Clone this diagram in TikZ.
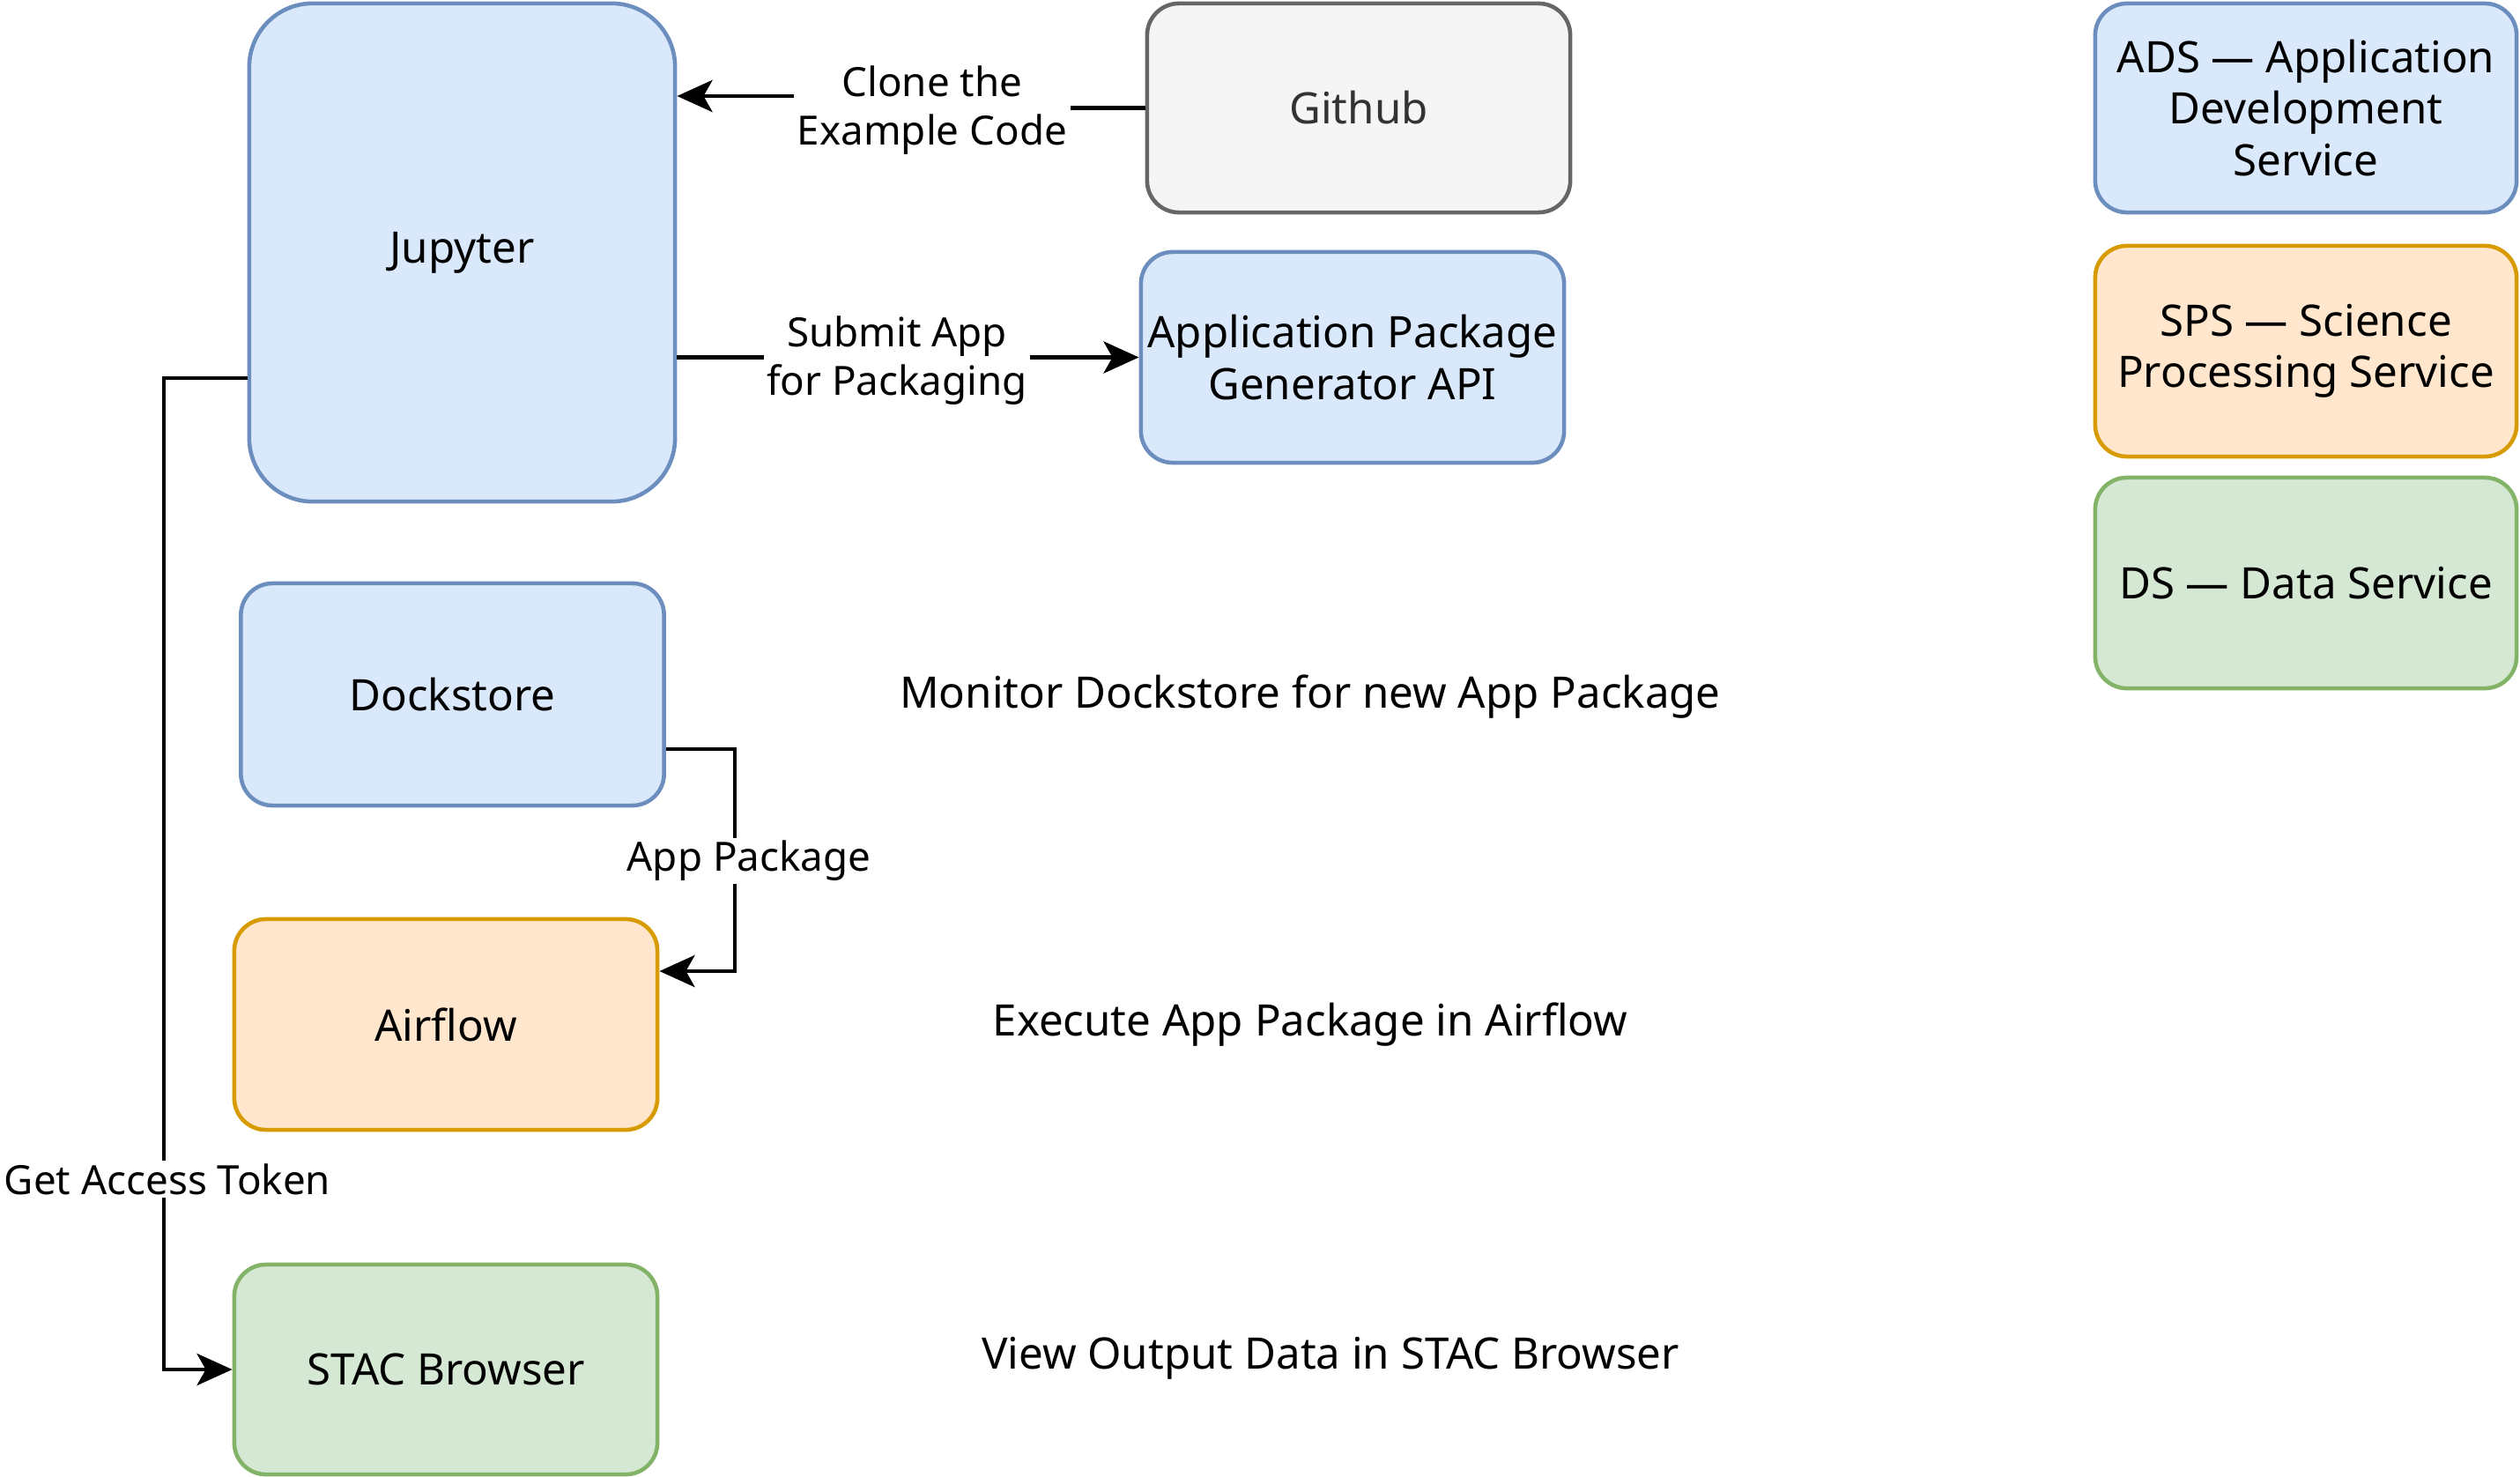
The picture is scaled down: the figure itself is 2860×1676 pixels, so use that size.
\documentclass[tikz,border=0pt]{standalone}
\usepackage{fontspec}
\setmainfont{Noto Sans}
\usetikzlibrary{arrows.meta}
\definecolor{bluefill}{HTML}{DAE8FC}
\definecolor{bluedraw}{HTML}{6C8EBF}
\definecolor{orfill}{HTML}{FFE6CC}
\definecolor{ordraw}{HTML}{D79B00}
\definecolor{grfill}{HTML}{D5E8D4}
\definecolor{grdraw}{HTML}{82B366}
\definecolor{gyfill}{HTML}{F5F5F5}
\definecolor{gydraw}{HTML}{666666}
\definecolor{gytext}{HTML}{333333}
\tikzset{
  box/.style={draw, rounded corners=0.36cm, line width=1.3pt, minimum width=4.8cm, minimum height=2.39cm, align=center, inner sep=0pt, font=\fontsize{14}{16.6}\selectfont},
  bluebox/.style={box, fill=bluefill, draw=bluedraw},
  orbox/.style={box, fill=orfill, draw=ordraw},
  grbox/.style={box, fill=grfill, draw=grdraw},
  edge/.style={draw=black, line width=1.4pt, -{Stealth[length=0.4cm, width=0.36cm, inset=0.1cm]}},
  elabel/.style={fill=white, align=center, inner sep=1pt, font=\fontsize{13}{15.5}\selectfont},
  freetext/.style={align=center, font=\fontsize{14}{16.6}\selectfont},
}
\begin{document}
\begin{tikzpicture}[x=0.01cm, y=-0.01cm]
\useasboundingbox (0,0) rectangle (2860,1676);
% nodes
\node[bluebox, rounded corners=0.72cm, minimum width=4.83cm, minimum height=5.65cm] (jupyter) at (524.5,286.5) {Jupyter};
\node[box, fill=gyfill, draw=gydraw, text=gytext, minimum height=2.37cm] (github) at (1542,122.5) {Github};
\node[bluebox] (appgen) at (1535,405.5) {Application Package\\Generator API};
\node[bluebox, minimum height=2.52cm] (dockstore) at (513.5,788) {Dockstore};
\node[orbox] (airflow) at (506,1162.5) {Airflow};
\node[grbox, minimum height=2.38cm] (stac) at (506,1554) {STAC Browser};
\node[bluebox, minimum width=4.78cm, minimum height=2.37cm] (ads) at (2617,122.5) {ADS — Application\\Development\\Service};
\node[orbox, minimum width=4.78cm] (sps) at (2617,398.5) {SPS — Science\\Processing Service};
\node[grbox, minimum width=4.78cm] (ds) at (2617,661.5) {DS — Data Service};
% free texts
\node[freetext] (monitor) at (1487,791) {Monitor Dockstore for new App Package};
\node[freetext] (execute) at (1487,1163) {Execute App Package in Airflow};
\node[freetext] (view) at (1510,1541) {View Output Data in STAC Browser};
% edges
\draw[edge] (github.west) -- (1058,122.5) |- (jupyter.east |- 0,109);
\node[elabel] (lclone) at (1058,125) {Clone the\\Example Code};
\draw[edge] (jupyter.east |- appgen.west) -- (appgen.west);
\node[elabel] (lsubmit) at (1018,409) {Submit App\\for Packaging};
\draw[edge] (jupyter.west |- 0,429) -- (186,429) |- (stac.west);
\node[elabel] (ltoken) at (190,1338) {Get Access Token};
\draw[edge] (dockstore.east |- 0,850) -- (834,850) |- (airflow.east |- 0,1102);
\node[elabel] (lpkg) at (850,977) {App Package};
\end{tikzpicture}
\end{document}
